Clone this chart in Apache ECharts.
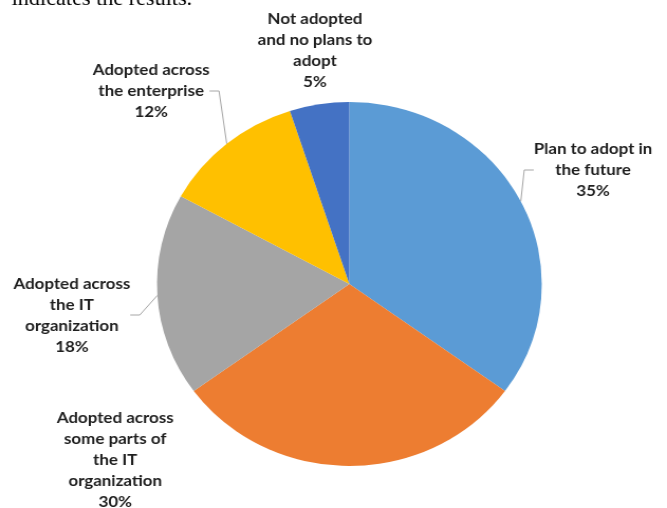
<!DOCTYPE html>
<html>
<head>
<meta charset="utf-8">
<script src="https://cdn.jsdelivr.net/npm/echarts@6/dist/echarts.min.js"></script>
<style>
  html, body { margin: 0; padding: 0; background: #fff; overflow: hidden; }
  #wrap { width: 667px; height: 508px; overflow: hidden; }
  #chart { width: 631px; height: 508px; transform: scaleX(1.05705); transform-origin: 0 0; }
</style>
</head>
<body>
<div id="wrap"><div id="chart"></div></div>
<script>
// ---- data ----
var categories = [
  'Plan to adopt in\nthe future',
  'Adopted across\nsome parts of\nthe IT\norganization',
  'Adopted across\nthe IT\norganization',
  'Adopted across\nthe enterprise',
  'Not adopted\nand no plans to\nadopt'
];
var values = [35, 30, 18, 12, 5];
var colors = ['#5B9BD5', '#ED7D31', '#A5A5A5', '#FFC000', '#4472C4'];

// label anchor centres (layout, in chart px)
var labelPos = [[561, 170], [109, 460], [68, 315], [143, 91], [298, 50]];
var showLeader = [true, false, true, true, false];

var chart = echarts.init(document.getElementById('chart'), null, { renderer: 'canvas' });

var seriesData = categories.map(function (name, i) {
  return {
    name: name,
    value: values[i],
    itemStyle: { color: colors[i] },
    labelLine: { show: showLeader[i] }
  };
});

chart.setOption({
  animation: false,
  backgroundColor: '#ffffff',
  graphic: [{
    type: 'text',
    left: 11,
    top: -11,
    style: {
      text: 'indicates the results.',
      font: '21px "Liberation Serif", "DejaVu Serif", serif',
      fill: '#000000'
    }
  }],
  series: [{
    type: 'pie',
    center: [330.5, 284],
    radius: [0, 182],
    startAngle: 90,
    clockwise: true,
    data: seriesData,
    itemStyle: { borderWidth: 0 },
    label: {
      show: true,
      position: 'outside',
      overflow: 'none',
      edgeDistance: 0,
      formatter: function (p) { return p.name + '\n' + p.value + '%'; },
      fontFamily: 'Lato',
      fontWeight: 'bold',
      fontSize: 16,
      lineHeight: 21,
      color: '#1f1f1f',
      align: 'center'
    },
    labelLine: {
      show: true,
      length: 10,
      length2: 9,
      lineStyle: { color: '#A6A6A6', width: 1 }
    },
    labelLayout: function (params) {
      var p = labelPos[params.dataIndex];
      return { x: p[0], y: p[1], align: 'center', verticalAlign: 'middle' };
    },
    emphasis: { disabled: true }
  }]
});
</script>
</body>
</html>
